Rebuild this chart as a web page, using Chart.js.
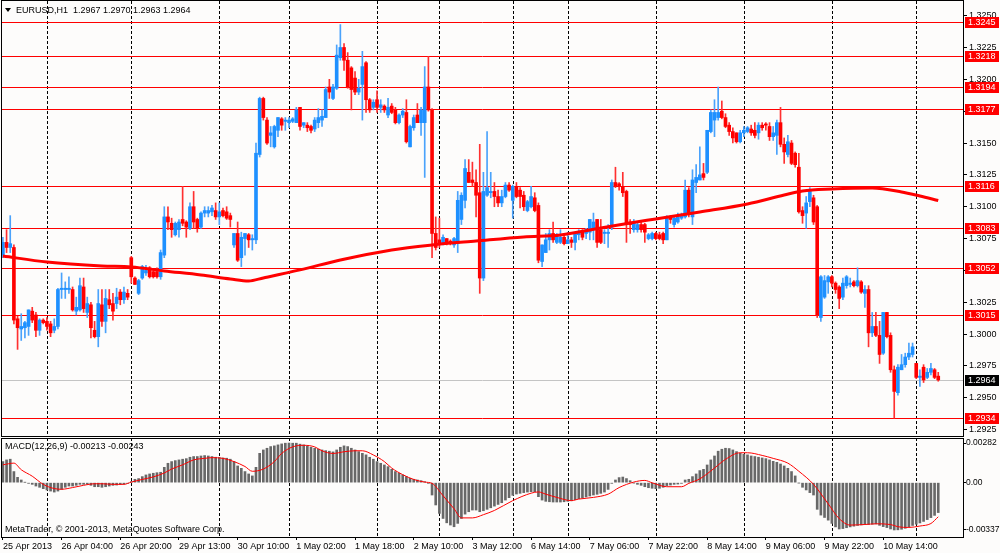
<!DOCTYPE html>
<html><head><meta charset="utf-8">
<script src="https://cdn.jsdelivr.net/npm/chart.js@4.4.0/dist/chart.umd.min.js"></script>
<style>
html,body{margin:0;padding:0;background:#fdfcfb;}
#wrap{position:relative;width:1000px;height:553px;overflow:hidden;background:#fdfcfb;}
#c1{position:absolute;left:0;top:0;}
#c2{position:absolute;left:0;top:437px;}
</style></head><body>
<div id="wrap"><canvas id="c1" width="1000" height="437"></canvas><canvas id="c2" width="1000" height="116"></canvas></div>
<script>
const symbolName = 'EURUSD,H1';
const opens = [
1.3062,1.3072,1.3068,1.3068,1.3012,1.3004,1.3005,1.3006,1.3018,1.3015,1.3003,1.3011,1.3010,1.3008,1.3003,1.3006,
1.3035,1.3035,1.3035,1.3035,1.3018,1.3019,1.3037,1.3017,1.3023,1.3003,1.2998,1.3023,1.3010,1.3027,1.3024,1.3024,
1.3033,1.3027,1.3032,1.3060,1.3044,1.3032,1.3044,1.3048,1.3052,1.3049,1.3049,1.3045,1.3062,1.3092,1.3087,1.3078,
1.3082,1.3090,1.3088,1.3083,1.3100,1.3090,1.3084,1.3095,1.3095,1.3096,1.3097,1.3092,1.3097,1.3096,1.3093,1.3070,
1.3079,1.3060,1.3075,1.3078,1.3074,1.3074,1.3141,1.3185,1.3168,1.3156,1.3147,1.3160,1.3169,1.3167,1.3166,1.3167,
1.3166,1.3178,1.3164,1.3164,1.3163,1.3161,1.3166,1.3168,1.3170,1.3194,1.3185,1.3193,1.3217,1.3225,1.3215,1.3209,
1.3201,1.3190,1.3196,1.3213,1.3184,1.3178,1.3184,1.3178,1.3179,1.3172,1.3179,1.3176,1.3166,1.3172,1.3174,1.3147,
1.3162,1.3172,1.3166,1.3166,1.3194,1.3176,1.3079,1.3074,1.3071,1.3075,1.3073,1.3070,1.3071,1.3090,1.3105,1.3127,
1.3121,1.3119,1.3111,1.3044,1.3109,1.3111,1.3112,1.3108,1.3103,1.3108,1.3117,1.3105,1.3116,1.3113,1.3109,1.3097,
1.3100,1.3107,1.3101,1.3057,1.3064,1.3074,1.3079,1.3072,1.3072,1.3076,1.3071,1.3074,1.3072,1.3078,1.3080,1.3079,
1.3080,1.3082,1.3090,1.3082,1.3079,1.3079,1.3084,1.3119,1.3118,1.3116,1.3112,1.3088,1.3082,1.3082,1.3086,1.3086,
1.3075,1.3075,1.3079,1.3078,1.3079,1.3074,1.3092,1.3086,1.3088,1.3091,1.3092,1.3113,1.3092,1.3119,1.3121,1.3126,
1.3127,1.3159,1.3168,1.3170,1.3175,1.3170,1.3164,1.3159,1.3158,1.3151,1.3158,1.3159,1.3161,1.3160,1.3158,1.3164,
1.3165,1.3163,1.3155,1.3156,1.3166,1.3149,1.3141,1.3150,1.3142,1.3131,1.3097,1.3095,1.3104,1.3107,1.3100,1.3013,
1.3029,1.3041,1.3045,1.3040,1.3037,1.3029,1.3038,1.3039,1.3041,1.3038,1.3041,1.3032,1.3035,1.3001,1.3006,1.2999,
1.2985,1.3017,1.2999,1.2972,1.2954,1.2972,1.2976,1.2982,1.2984,1.2977,1.2966,1.2974,1.2966,1.2970,1.2972,1.2967];
const highs = [
1.3076,1.3082,1.3093,1.3070,1.3014,1.3016,1.3010,1.3019,1.3021,1.3017,1.3012,1.3012,1.3013,1.3010,1.3012,1.3036,
1.3048,1.3041,1.3045,1.3037,1.3029,1.3044,1.3044,1.3029,1.3025,1.3010,1.3035,1.3035,1.3035,1.3035,1.3032,1.3036,
1.3035,1.3037,1.3035,1.3061,1.3045,1.3043,1.3054,1.3054,1.3053,1.3050,1.3052,1.3066,1.3100,1.3100,1.3091,1.3088,
1.3090,1.3116,1.3089,1.3103,1.3112,1.3091,1.3096,1.3100,1.3100,1.3101,1.3103,1.3103,1.3099,1.3100,1.3095,1.3079,
1.3088,1.3080,1.3079,1.3079,1.3078,1.3150,1.3186,1.3186,1.3170,1.3163,1.3164,1.3170,1.3170,1.3170,1.3170,1.3170,
1.3178,1.3178,1.3166,1.3166,1.3164,1.3170,1.3177,1.3176,1.3194,1.3200,1.3196,1.3227,1.3243,1.3228,1.3221,1.3210,
1.3206,1.3200,1.3222,1.3214,1.3185,1.3184,1.3191,1.3184,1.3180,1.3185,1.3181,1.3178,1.3173,1.3177,1.3184,1.3164,
1.3172,1.3181,1.3178,1.3210,1.3218,1.3177,1.3092,1.3091,1.3078,1.3075,1.3074,1.3076,1.3112,1.3111,1.3137,1.3137,
1.3135,1.3129,1.3149,1.3127,1.3159,1.3127,1.3119,1.3113,1.3113,1.3119,1.3119,1.3117,1.3119,1.3115,1.3112,1.3105,
1.3116,1.3111,1.3103,1.3070,1.3079,1.3082,1.3088,1.3079,1.3082,1.3078,1.3080,1.3076,1.3080,1.3082,1.3082,1.3083,
1.3090,1.3095,1.3090,1.3090,1.3082,1.3086,1.3121,1.3131,1.3119,1.3127,1.3113,1.3090,1.3090,1.3087,1.3088,1.3087,
1.3079,1.3080,1.3080,1.3080,1.3080,1.3093,1.3093,1.3092,1.3095,1.3095,1.3121,1.3115,1.3129,1.3133,1.3147,1.3134,
1.3160,1.3176,1.3184,1.3194,1.3183,1.3173,1.3166,1.3162,1.3158,1.3160,1.3163,1.3163,1.3164,1.3166,1.3166,1.3166,
1.3166,1.3166,1.3163,1.3168,1.3178,1.3154,1.3156,1.3152,1.3143,1.3142,1.3100,1.3108,1.3115,1.3109,1.3101,1.3046,
1.3046,1.3046,1.3046,1.3041,1.3038,1.3044,1.3046,1.3044,1.3042,1.3052,1.3042,1.3038,1.3038,1.3017,1.3017,1.3010,
1.3017,1.3017,1.3001,1.2975,1.2976,1.2984,1.2985,1.2993,1.2993,1.2977,1.2972,1.2976,1.2973,1.2977,1.2973,1.2970];
const lows = [
1.3060,1.3064,1.3064,1.3008,1.2988,1.2995,1.2997,1.2999,1.3009,1.2998,1.2999,1.3008,1.3003,1.2998,1.3001,1.3004,
1.3028,1.3028,1.3032,1.3018,1.3015,1.3018,1.3017,1.3013,1.2997,1.2997,1.2990,1.3006,1.3001,1.3020,1.3011,1.3020,
1.3023,1.3024,1.3027,1.3040,1.3039,1.3031,1.3043,1.3046,1.3044,1.3044,1.3044,1.3043,1.3060,1.3082,1.3076,1.3077,
1.3076,1.3085,1.3076,1.3082,1.3083,1.3080,1.3083,1.3092,1.3092,1.3093,1.3090,1.3086,1.3092,1.3090,1.3084,1.3068,
1.3057,1.3053,1.3062,1.3068,1.3066,1.3071,1.3139,1.3168,1.3149,1.3147,1.3146,1.3155,1.3160,1.3160,1.3162,1.3166,
1.3166,1.3160,1.3162,1.3159,1.3158,1.3159,1.3162,1.3163,1.3170,1.3185,1.3184,1.3192,1.3215,1.3207,1.3193,1.3176,
1.3188,1.3188,1.3168,1.3174,1.3174,1.3176,1.3174,1.3174,1.3174,1.3170,1.3173,1.3165,1.3165,1.3170,1.3150,1.3147,
1.3160,1.3166,1.3156,1.3123,1.3175,1.3060,1.3066,1.3068,1.3070,1.3070,1.3070,1.3068,1.3064,1.3086,1.3099,1.3119,
1.3116,1.3092,1.3032,1.3042,1.3108,1.3107,1.3100,1.3100,1.3100,1.3107,1.3112,1.3091,1.3107,1.3099,1.3097,1.3096,
1.3099,1.3096,1.3056,1.3053,1.3064,1.3066,1.3072,1.3071,1.3071,1.3070,1.3071,1.3068,1.3066,1.3074,1.3074,1.3075,
1.3074,1.3074,1.3068,1.3071,1.3071,1.3068,1.3082,1.3115,1.3113,1.3108,1.3072,1.3079,1.3080,1.3080,1.3080,1.3072,
1.3074,1.3074,1.3074,1.3074,1.3071,1.3074,1.3087,1.3084,1.3087,1.3090,1.3091,1.3092,1.3086,1.3111,1.3121,1.3121,
1.3126,1.3158,1.3155,1.3168,1.3169,1.3162,1.3156,1.3150,1.3150,1.3150,1.3155,1.3158,1.3156,1.3154,1.3153,1.3160,
1.3160,1.3152,1.3152,1.3141,1.3147,1.3134,1.3139,1.3133,1.3131,1.3095,1.3087,1.3083,1.3100,1.3086,1.3013,1.3010,
1.3028,1.3032,1.3037,1.3032,1.3020,1.3027,1.3036,1.3037,1.3037,1.3037,1.3032,1.3021,1.2990,1.2998,1.2998,1.2977,
1.2984,1.2997,1.2970,1.2934,1.2952,1.2972,1.2974,1.2980,1.2982,1.2965,1.2959,1.2962,1.2965,1.2968,1.2965,1.2963];
const closes = [
1.3072,1.3068,1.3071,1.3011,1.3005,1.3006,1.3009,1.3019,1.3011,1.3003,1.3011,1.3009,1.3006,1.3001,1.3006,1.3035,
1.3036,1.3036,1.3036,1.3019,1.3021,1.3038,1.3020,1.3024,1.3005,1.2998,1.3024,1.3010,1.3028,1.3023,1.3018,1.3029,
1.3027,1.3033,1.3029,1.3045,1.3039,1.3042,1.3053,1.3050,1.3045,1.3045,1.3045,1.3064,1.3092,1.3088,1.3082,1.3087,
1.3088,1.3087,1.3084,1.3100,1.3088,1.3083,1.3095,1.3097,1.3097,1.3099,1.3092,1.3096,1.3093,1.3091,1.3090,1.3079,
1.3058,1.3076,1.3079,1.3074,1.3075,1.3142,1.3185,1.3170,1.3150,1.3158,1.3163,1.3170,1.3164,1.3168,1.3168,1.3169,
1.3176,1.3163,1.3166,1.3162,1.3160,1.3168,1.3170,1.3171,1.3192,1.3190,1.3194,1.3219,1.3225,1.3215,1.3194,1.3192,
1.3190,1.3193,1.3210,1.3184,1.3176,1.3182,1.3178,1.3180,1.3176,1.3178,1.3174,1.3166,1.3172,1.3175,1.3151,1.3163,
1.3170,1.3166,1.3176,1.3194,1.3176,1.3079,1.3068,1.3071,1.3076,1.3071,1.3071,1.3075,1.3105,1.3109,1.3130,1.3119,
1.3119,1.3109,1.3044,1.3112,1.3115,1.3112,1.3108,1.3103,1.3108,1.3117,1.3113,1.3116,1.3108,1.3108,1.3100,1.3104,
1.3108,1.3097,1.3058,1.3070,1.3074,1.3079,1.3074,1.3078,1.3076,1.3071,1.3074,1.3072,1.3079,1.3080,1.3076,1.3082,
1.3090,1.3088,1.3072,1.3072,1.3080,1.3080,1.3119,1.3116,1.3116,1.3111,1.3087,1.3086,1.3088,1.3086,1.3082,1.3080,
1.3078,1.3079,1.3075,1.3075,1.3074,1.3092,1.3090,1.3091,1.3093,1.3094,1.3113,1.3095,1.3121,1.3123,1.3125,1.3123,
1.3160,1.3174,1.3174,1.3174,1.3170,1.3163,1.3159,1.3154,1.3151,1.3158,1.3160,1.3162,1.3158,1.3156,1.3164,1.3162,
1.3164,1.3155,1.3158,1.3166,1.3149,1.3143,1.3151,1.3134,1.3133,1.3096,1.3093,1.3103,1.3112,1.3088,1.3015,1.3045,
1.3042,1.3045,1.3040,1.3035,1.3028,1.3040,1.3045,1.3040,1.3038,1.3042,1.3033,1.3035,1.3001,1.3006,1.2999,1.2984,
1.3017,1.2998,1.2972,1.2955,1.2974,1.2976,1.2982,1.2985,1.2990,1.2966,1.2967,1.2964,1.2970,1.2973,1.2966,1.2964];

// moving average read at sample bars
const maBars   = [0,12,27,35,44,54,62,67,71,81,92,106,117,129,142,152,163,171,178,190,203,213,218,226,237,245,250,255];
const maValues = [1.30613,1.30566,1.30535,1.30527,1.30496,1.30464,1.30433,1.30417,1.30441,1.30504,1.30582,1.30661,1.30700,1.30731,1.30763,1.30778,1.30833,1.30872,1.30904,1.30959,1.31022,1.31092,1.31124,1.31139,1.31147,1.31116,1.31084,1.31049];

const macdValues = [
0.00150,0.00162,0.00167,0.00079,0.00038,0.00019,0.00002,-0.00005,-0.00012,-0.00024,-0.00033,-0.00043,-0.00052,-0.00060,-0.00067,-0.00060,
-0.00048,-0.00033,-0.00024,-0.00024,-0.00019,-0.00012,-0.00012,-0.00012,-0.00019,-0.00029,-0.00029,-0.00033,-0.00029,-0.00024,-0.00019,-0.00017,
-0.00012,-0.00010,-0.00005,0.00007,0.00024,0.00029,0.00043,0.00055,0.00062,0.00067,0.00071,0.00074,0.00109,0.00138,0.00150,0.00157,
0.00162,0.00167,0.00171,0.00181,0.00186,0.00186,0.00190,0.00193,0.00190,0.00186,0.00181,0.00179,0.00176,0.00174,0.00167,0.00150,
0.00119,0.00102,0.00079,0.00062,0.00048,0.00109,0.00209,0.00233,0.00245,0.00257,0.00262,0.00269,0.00276,0.00281,0.00282,0.00281,
0.00281,0.00274,0.00269,0.00262,0.00252,0.00245,0.00238,0.00233,0.00228,0.00224,0.00219,0.00233,0.00252,0.00262,0.00257,0.00245,
0.00233,0.00221,0.00209,0.00198,0.00181,0.00167,0.00150,0.00138,0.00126,0.00114,0.00095,0.00079,0.00067,0.00055,0.00043,0.00031,
0.00024,0.00019,0.00014,0.00007,-0.00005,-0.00088,-0.00159,-0.00219,-0.00255,-0.00286,-0.00302,-0.00314,-0.00290,-0.00255,-0.00224,-0.00207,
-0.00195,-0.00195,-0.00207,-0.00200,-0.00190,-0.00179,-0.00167,-0.00155,-0.00143,-0.00124,-0.00107,-0.00090,-0.00081,-0.00076,-0.00071,-0.00067,
-0.00064,-0.00064,-0.00100,-0.00124,-0.00133,-0.00136,-0.00138,-0.00138,-0.00138,-0.00136,-0.00133,-0.00129,-0.00121,-0.00114,-0.00109,-0.00102,
-0.00095,-0.00088,-0.00083,-0.00076,-0.00067,-0.00048,-0.00005,0.00019,0.00036,0.00040,0.00029,0.00014,-0.00002,-0.00012,-0.00019,-0.00029,
-0.00036,-0.00040,-0.00043,-0.00040,-0.00033,-0.00021,-0.00017,-0.00012,-0.00010,-0.00005,0.00019,0.00024,0.00043,0.00062,0.00086,0.00095,
0.00126,0.00162,0.00190,0.00224,0.00238,0.00245,0.00243,0.00233,0.00221,0.00209,0.00202,0.00198,0.00190,0.00186,0.00181,0.00176,
0.00171,0.00162,0.00152,0.00145,0.00133,0.00119,0.00102,0.00079,0.00048,-0.00002,-0.00033,-0.00052,-0.00071,-0.00088,-0.00190,-0.00231,
-0.00248,-0.00267,-0.00290,-0.00315,-0.00330,-0.00327,-0.00321,-0.00315,-0.00310,-0.00305,-0.00301,-0.00298,-0.00298,-0.00296,-0.00294,-0.00304,
-0.00313,-0.00320,-0.00330,-0.00337,-0.00336,-0.00332,-0.00325,-0.00314,-0.00305,-0.00296,-0.00287,-0.00276,-0.00263,-0.00249,-0.00233,-0.00213];

const signalBars = [0,3,5,8,11,14,16,19,22,25,27,30,33,35,38,41,44,46,49,52,55,57,60,63,66,68,71,74,76,79,82,85,87,90,93,96,98,101,104,106,109,112,115,117,120,123,125,128,131,134,139,144,146,148,151,155,157,161,165,168,172,175,177,181,185,187,190,194,197,201,203,207,210,214,217,221,225,228,231,235,238,242,244,247,250,253,255];
const signalValues = [0.00127,0.00139,0.00092,0.00046,-0.00012,-0.00042,-0.00047,-0.00035,-0.00019,-0.00008,-0.00008,-0.00012,-0.00012,0.00004,0.00023,0.00041,0.00069,0.00097,0.00127,0.00162,0.00173,0.00178,0.00173,0.00150,0.00115,0.00081,0.00097,0.00150,0.00208,0.00255,0.00266,0.00255,0.00227,0.00208,0.00220,0.00227,0.00227,0.00197,0.00150,0.00104,0.00057,0.00023,0.00004,-0.00005,-0.00093,-0.00186,-0.00251,-0.00251,-0.00228,-0.00198,-0.00128,-0.00075,-0.00066,-0.00082,-0.00105,-0.00128,-0.00117,-0.00105,-0.00082,-0.00035,0.00004,0.00016,-0.00001,-0.00029,-0.00029,-0.00005,0.00027,0.00104,0.00166,0.00213,0.00213,0.00194,0.00173,0.00139,0.00081,-0.00012,-0.00151,-0.00256,-0.00302,-0.00298,-0.00293,-0.00298,-0.00314,-0.00319,-0.00309,-0.00291,-0.00243];

const priceTicks = [1.3250,1.3225,1.3200,1.3175,1.3150,1.3125,1.3100,1.3075,1.3050,1.3025,1.3000,1.2975,1.2950,1.2925];
const levelValues = [1.3245,1.3218,1.3194,1.3177,1.3116,1.3083,1.3052,1.3015,1.2934];
const currentPrice = 1.2964;
const macdTicks = [0.00282,0,-0.00337];
const gridBars = [12,35,59,78,102,119,139,154,178,202,226,249];
const timeBars = [0,16,32,48,64,80,96,112,128,144,160,176,192,208,224,240];
const timeLabels = ['25 Apr 2013','26 Apr 04:00','26 Apr 20:00','29 Apr 13:00','30 Apr 10:00','1 May 02:00','1 May 18:00','2 May 10:00','3 May 12:00','6 May 14:00','7 May 06:00','7 May 22:00','8 May 14:00','9 May 06:00','9 May 22:00','10 May 14:00'];

const FONT = '"Liberation Sans", Arial, sans-serif';
const X_MIN = -0.245, X_MAX = 261.75;
const UP = '#1e90ff', DOWN = '#ff0000', UP_WICK = '#4aa2fb', DOWN_WICK = '#ff3030';

const isUp = opens.map((o,i)=>closes[i] >= o);
const bodyData = opens.map((o,i)=>({x:i, y:[o, closes[i]]}));
const wickData = opens.map((o,i)=>({x:i, y:[lows[i], highs[i]]}));
const maData = maBars.map((b,i)=>({x:b, y:maValues[i]}));
const macdData = macdValues.map((v,i)=>({x:i, y:v}));
const sigData = signalBars.map((b,i)=>({x:b, y:signalValues[i]}));

function drawVGrid(chart){
  const {ctx, chartArea:a, scales:{x}} = chart;
  ctx.save(); ctx.strokeStyle='#000'; ctx.lineWidth=1; ctx.setLineDash([3,2]);
  gridBars.forEach(b=>{
    const px = Math.round(x.getPixelForValue(b))+0.5;
    ctx.beginPath(); ctx.moveTo(px,a.top); ctx.lineTo(px,a.bottom); ctx.stroke();
  });
  ctx.restore();
}
function hLine(ctx,a,py,color){
  ctx.strokeStyle=color; ctx.beginPath(); ctx.moveTo(a.left,py); ctx.lineTo(a.right,py); ctx.stroke();
}
function noPad(s){ s.paddingTop=0; s.paddingBottom=0; s.paddingLeft=0; s.paddingRight=0; }

const mainPlugin = {
  id:'mainDeco',
  beforeDatasetsDraw(chart){
    drawVGrid(chart);
    const {ctx, chartArea:a, scales:{y}} = chart;
    ctx.save(); ctx.lineWidth=1;
    hLine(ctx,a,Math.round(y.getPixelForValue(currentPrice))+0.5,'#c4c4c4');
    levelValues.forEach(v=>hLine(ctx,a,Math.round(y.getPixelForValue(v))+0.5,'#ff0000'));
    ctx.restore();
  },
  afterDraw(chart){
    const {ctx, chartArea:a, scales:{y}} = chart;
    ctx.save();
    ctx.strokeStyle='#000'; ctx.lineWidth=1; ctx.setLineDash([]);
    ctx.strokeRect(1.5,0.5,Math.round(a.right)-1,Math.round(a.bottom));
    ctx.font='9px '+FONT; ctx.textBaseline='middle'; ctx.textAlign='left';
    const bx = Math.round(a.right)+2, bw = 34, bh = 11;
    levelValues.forEach(v=>{
      const py = Math.round(y.getPixelForValue(v));
      ctx.fillStyle='#ff0000'; ctx.fillRect(bx,py-5,bw,bh);
      ctx.fillStyle='#ffffff'; ctx.fillText(v.toFixed(4),bx+3,py+1);
    });
    const cp = Math.round(y.getPixelForValue(currentPrice));
    ctx.fillStyle='#000'; ctx.fillRect(bx,cp-5,bw,bh);
    ctx.fillStyle='#fff'; ctx.fillText(currentPrice.toFixed(4),bx+3,cp+1);
    ctx.fillStyle='#000';
    ctx.beginPath(); ctx.moveTo(5,8); ctx.lineTo(11,8); ctx.lineTo(8,12); ctx.closePath(); ctx.fill();
    const n = closes.length-1;
    const title = symbolName+'  '+opens[n].toFixed(4)+' '+highs[n].toFixed(4)+' '+lows[n].toFixed(4)+' '+closes[n].toFixed(4);
    ctx.fillText(title,16,10.5);
    ctx.restore();
  }
};

new Chart(document.getElementById('c1'),{
  type:'bar',
  data:{datasets:[
    {type:'line', data:maData, borderColor:'#ff0000', borderWidth:3, pointRadius:0, cubicInterpolationMode:'monotone', order:0},
    {data:bodyData, backgroundColor:isUp.map(u=>u?UP:DOWN), barThickness:3, minBarLength:1, grouped:false, borderWidth:0, order:1},
    {data:wickData, backgroundColor:isUp.map(u=>u?UP_WICK:DOWN_WICK), barThickness:1, grouped:false, borderWidth:0, order:2}
  ]},
  options:{
    responsive:false, animation:false, devicePixelRatio:1,
    layout:{padding:{left:2,top:1,right:0,bottom:1}},
    plugins:{legend:{display:false}, tooltip:{enabled:false}},
    scales:{
      x:{type:'linear', display:false, offset:false, grace:0, bounds:'data', min:X_MIN, max:X_MAX, grid:{offset:false}},
      y:{type:'linear', position:'right', min:1.2920, max:1.32615,
         afterBuildTicks:s=>{s.ticks = priceTicks.map(v=>({value:v}));},
         afterFit:s=>{s.width=37; noPad(s);},
         ticks:{callback:v=>Number(v).toFixed(4), font:{family:FONT,size:9}, color:'#000', padding:2, autoSkip:false},
         grid:{drawOnChartArea:false, drawTicks:true, tickLength:4, color:'#000'},
         border:{display:true, color:'#000'}}
    }
  },
  plugins:[mainPlugin]
});

const macdPlugin = {
  id:'macdDeco',
  beforeDatasetsDraw(chart){ drawVGrid(chart); },
  afterDraw(chart){
    const {ctx, chartArea:a} = chart;
    ctx.save();
    ctx.strokeStyle='#000'; ctx.lineWidth=1;
    ctx.strokeRect(1.5,Math.round(a.top)+0.5,Math.round(a.right)-1,Math.round(a.bottom-a.top));
    ctx.font='9px '+FONT; ctx.textBaseline='middle'; ctx.textAlign='left'; ctx.fillStyle='#000';
    const n = macdValues.length-1;
    ctx.fillText('MACD(12,26,9) '+macdValues[n].toFixed(5)+' '+signalValues[signalValues.length-1].toFixed(5),5,9.5);
    ctx.fillText('MetaTrader, \u00A9 2001-2013, MetaQuotes Software Corp.',5,93);
    ctx.restore();
  }
};

new Chart(document.getElementById('c2'),{
  type:'bar',
  data:{datasets:[
    {type:'line', data:sigData, borderColor:'#ff0000', borderWidth:1, pointRadius:0, cubicInterpolationMode:'monotone', order:0},
    {data:macdData, backgroundColor:'#686868', barThickness:2, grouped:false, borderWidth:0, order:1}
  ]},
  options:{
    responsive:false, animation:false, devicePixelRatio:1,
    layout:{padding:{left:2,top:1,right:0,bottom:0}},
    plugins:{legend:{display:false}, tooltip:{enabled:false}},
    scales:{
      x:{type:'linear', offset:false, grace:0, bounds:'data', min:X_MIN, max:X_MAX,
         afterBuildTicks:s=>{s.ticks = timeBars.map(v=>({value:v}));},
         afterFit:s=>{s.height=16; noPad(s);},
         ticks:{callback:(v,i)=>timeLabels[i], align:'start', maxRotation:0, minRotation:0, autoSkip:false, font:{family:FONT,size:9}, color:'#000', padding:1},
         grid:{offset:false, drawOnChartArea:false, drawTicks:true, tickLength:3, color:'#000'},
         border:{display:true, color:'#000'}},
      y:{type:'linear', position:'right', min:-0.00387, max:0.00318,
         afterBuildTicks:s=>{s.ticks = macdTicks.map(v=>({value:v}));},
         afterFit:s=>{s.width=37; noPad(s);},
         ticks:{callback:v=>(v===0?'0.00':Number(v).toFixed(5)), font:{family:FONT,size:8.5}, color:'#000', padding:0, autoSkip:false},
         grid:{drawOnChartArea:false, drawTicks:true, tickLength:3, color:'#000'},
         border:{display:true, color:'#000'}}
    }
  },
  plugins:[macdPlugin]
});
</script>
</body></html>
